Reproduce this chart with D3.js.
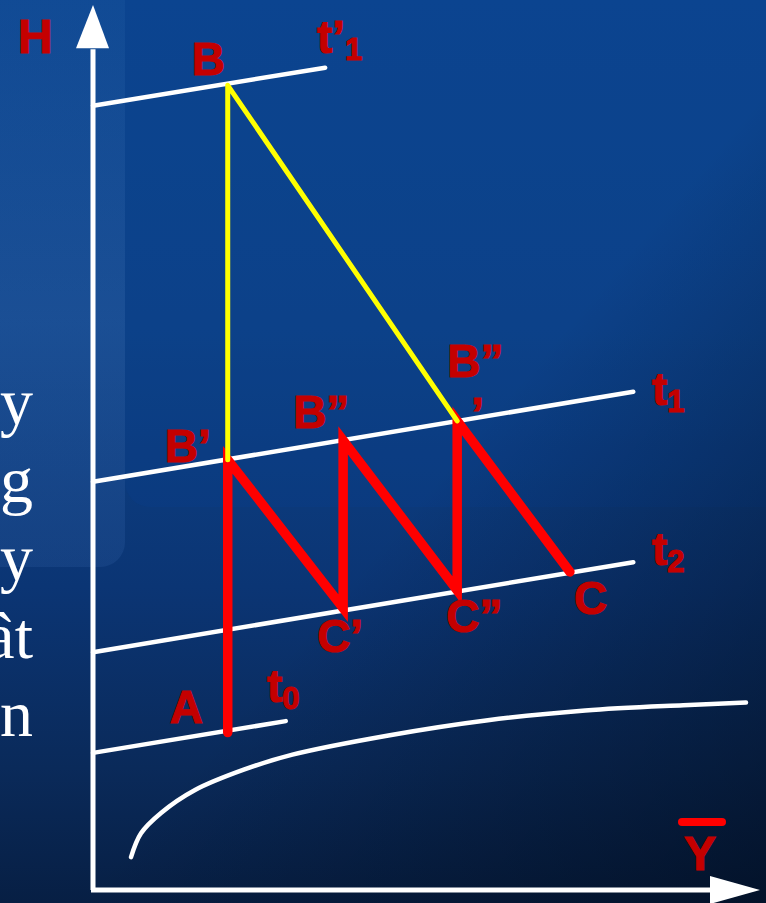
<!DOCTYPE html>
<html lang="en">
<head>
  <meta charset="UTF-8">
  <title>H - Y diagram</title>
  <style>
    html, body {
      margin: 0;
      padding: 0;
      background: #0b3a7a;
    }
    svg {
      display: block;
    }
    .lbl {
      font-family: "Liberation Sans", Arial, sans-serif;
      font-weight: bold;
      fill: #c40000;
      stroke: #c40000;
      stroke-width: 1.2;
    }
    .side {
      font-family: "Liberation Serif", "Times New Roman", serif;
      fill: #ffffff;
    }
  </style>
</head>
<body>
  <svg id="chart" width="766" height="903"></svg>

  <script src="https://cdnjs.cloudflare.com/ajax/libs/d3/7.8.5/d3.min.js"></script>
  <script>
    // state points of the drying process (Y = humidity, H = enthalpy)
    const pointNames = ["B", "B1", "A", "B2", "C1", "B3", "C2", "C"];
    const pointY = [20.2, 20.2, 20.2, 37.5, 37.5, 54.6, 54.6, 71.5];
    const pointH = [90.9, 48.5, 17.6, 50.7, 31.7, 52.9, 33.7, 35.8];

    // red path (multi stage) and yellow path (single stage)
    const redPath = ["A", "B1", "C1", "B2", "C2", "B3", "C"];
    const yellowPath = ["B1", "B", "B3"];

    // isotherms t'1, t1, t2, t0 : straight lines starting on the H axis
    const isoNames = ["t’1", "t1", "t2", "t0"];
    const isoStartH = [88.6, 46.0, 26.7, 15.3];
    const isoEndY = [34.8, 81.0, 81.0, 28.9];
    const isoEndH = [92.9, 56.2, 36.9, 18.9];

    // saturation curve
    const satY = [5.7, 7.2, 10.2, 15.3, 22.6, 29.9, 44.5, 59.2, 73.8, 88.5, 97.9];
    const satH = [3.5, 6.2, 8.5, 11.1, 13.4, 15.1, 17.3, 19.0, 20.1, 20.7, 21.0];

    // cut off words of the slide text on the left
    const sideText = ["y", "g", "y", "ât", "n"];

    const svg = d3.select("#chart");
    const W = 766, Hh = 903;

    const x = d3.scaleLinear().domain([0, 100]).range([93, 760]);
    const y = d3.scaleLinear().domain([0, 100]).range([888, 5]);

    // ---- background ----
    const defs = svg.append("defs");
    const g1 = defs.append("linearGradient").attr("id", "bg").attr("x1", 0).attr("y1", 0).attr("x2", 0).attr("y2", 1);
    [[0, "#0c4792"], [0.35, "#0d4389"], [0.65, "#0b3574"], [0.85, "#0a2a5a"], [1, "#071f44"]]
      .forEach(s => g1.append("stop").attr("offset", s[0]).attr("stop-color", s[1]));
    const g2 = defs.append("linearGradient").attr("id", "shade").attr("x1", 0).attr("y1", 0).attr("x2", 1).attr("y2", 1);
    [[0, "#000", 0], [0.55, "#000814", 0], [1, "#000814", 0.55]]
      .forEach(s => g2.append("stop").attr("offset", s[0]).attr("stop-color", s[1]).attr("stop-opacity", s[2]));
    const g3 = defs.append("linearGradient").attr("id", "leftlight").attr("x1", 0).attr("y1", 0).attr("x2", 0).attr("y2", 1);
    [[0, "#3a6ab0", 0.08], [0.6, "#3a6ab0", 0.3], [1, "#3a6ab0", 0.2]]
      .forEach(s => g3.append("stop").attr("offset", s[0]).attr("stop-color", s[1]).attr("stop-opacity", s[2]));

    svg.append("rect").attr("width", W).attr("height", Hh).attr("fill", "url(#bg)");
    svg.append("rect").attr("x", -40).attr("y", -40).attr("width", 165).attr("height", 607)
      .attr("rx", 25).attr("fill", "url(#leftlight)");
    svg.append("rect").attr("x", 125).attr("y", -40).attr("width", 700).attr("height", 547)
      .attr("rx", 25).attr("fill", "#0a3f8c").attr("opacity", 0.3);
    svg.append("rect").attr("width", W).attr("height", Hh).attr("fill", "url(#shade)");

    // ---- side text ----
    svg.append("g").selectAll("text")
      .data(sideText)
      .join("text")
      .attr("class", "side")
      .attr("x", 33)
      .attr("y", (d, i) => 424 + i * 78)
      .attr("text-anchor", "end")
      .attr("font-size", 66)
      .text(d => d);

    // ---- axes with arrows ----
    svg.append("line")
      .attr("x1", x(0)).attr("y1", y(0) + 2).attr("x2", x(0)).attr("y2", y(95))
      .attr("stroke", "#fff").attr("stroke-width", 5);
    svg.append("path")
      .attr("d", `M${x(0)},${y(100)} L${x(0) - 17},${y(95.1)} L${x(0) + 16},${y(95.1)} Z`)
      .attr("fill", "#fff");
    svg.append("line")
      .attr("x1", x(0) - 2).attr("y1", y(0) + 2).attr("x2", x(93)).attr("y2", y(0) + 2)
      .attr("stroke", "#fff").attr("stroke-width", 5);
    svg.append("path")
      .attr("d", `M${x(100)},${y(0) + 2} L${x(92.5)},${y(0) - 12} L${x(92.5)},${y(0) + 16} Z`)
      .attr("fill", "#fff");

    // ---- isotherms ----
    svg.append("g").selectAll("line")
      .data(isoNames)
      .join("line")
      .attr("x1", x(0))
      .attr("y1", (d, i) => y(isoStartH[i]))
      .attr("x2", (d, i) => x(isoEndY[i]))
      .attr("y2", (d, i) => y(isoEndH[i]))
      .attr("stroke", "#fff")
      .attr("stroke-width", 4.5)
      .attr("stroke-linecap", "round");

    // ---- saturation curve ----
    const satLine = d3.line()
      .x((d, i) => x(satY[i]))
      .y((d, i) => y(satH[i]))
      .curve(d3.curveCatmullRom);
    svg.append("path")
      .datum(satY)
      .attr("d", satLine)
      .attr("fill", "none")
      .attr("stroke", "#fff")
      .attr("stroke-width", 4.5)
      .attr("stroke-linecap", "round");

    // ---- process paths ----
    const pt = name => {
      const i = pointNames.indexOf(name);
      return [x(pointY[i]), y(pointH[i])];
    };
    const pathLine = d3.line();

    svg.append("path")
      .attr("d", pathLine(redPath.map(pt)))
      .attr("fill", "none")
      .attr("stroke", "#ff0000")
      .attr("stroke-width", 9.5)
      .attr("stroke-linejoin", "miter")
      .attr("stroke-linecap", "round");

    svg.append("path")
      .attr("d", pathLine(yellowPath.map(pt)))
      .attr("fill", "none")
      .attr("stroke", "#ffff00")
      .attr("stroke-width", 5)
      .attr("stroke-linejoin", "round")
      .attr("stroke-linecap", "round");

    // ---- point labels ----
    const labels = [
      { text: "B", at: "B", dx: -36, dy: -10 },
      { text: "B’", at: "B1", dx: -63, dy: 2 },
      { text: "B”", at: "B2", dx: -50, dy: -12 },
      { text: "B”", at: "B3", dx: -10, dy: -44 },
      { text: "’", at: "B3", dx: 14, dy: 9 },
      { text: "C’", at: "C1", dx: -26, dy: 44 },
      { text: "C”", at: "C2", dx: -11, dy: 42 },
      { text: "C", at: "C", dx: 4, dy: 42 },
      { text: "A", at: "A", dx: -58, dy: -10 }
    ];
    svg.append("g").selectAll("text")
      .data(labels)
      .join("text")
      .attr("class", "lbl")
      .attr("font-size", 46)
      .attr("x", d => pt(d.at)[0] + d.dx)
      .attr("y", d => pt(d.at)[1] + d.dy)
      .text(d => d.text);

    // ---- isotherm labels ----
    const isoLabelPos = [
      { x: 317, y: 53 },
      { x: 652, y: 405 },
      { x: 652, y: 565 },
      { x: 267, y: 702 }
    ];
    isoNames.forEach((n, i) => {
      const t = svg.append("text")
        .attr("class", "lbl")
        .attr("font-size", 46)
        .attr("x", isoLabelPos[i].x)
        .attr("y", isoLabelPos[i].y);
      t.append("tspan").text(n.slice(0, -1));
      t.append("tspan").attr("font-size", 31).attr("dy", 7).text(n.slice(-1));
    });

    // ---- axis titles ----
    svg.append("text")
      .attr("class", "lbl")
      .attr("font-size", 48)
      .attr("x", 18)
      .attr("y", 53)
      .text("H");

    svg.append("rect")
      .attr("x", 678).attr("y", 818).attr("width", 48).attr("height", 8)
      .attr("rx", 4).attr("fill", "#ff0000");
    svg.append("text")
      .attr("class", "lbl")
      .attr("font-size", 48)
      .attr("x", 684)
      .attr("y", 870)
      .text("Y");
  </script>
</body>
</html>
